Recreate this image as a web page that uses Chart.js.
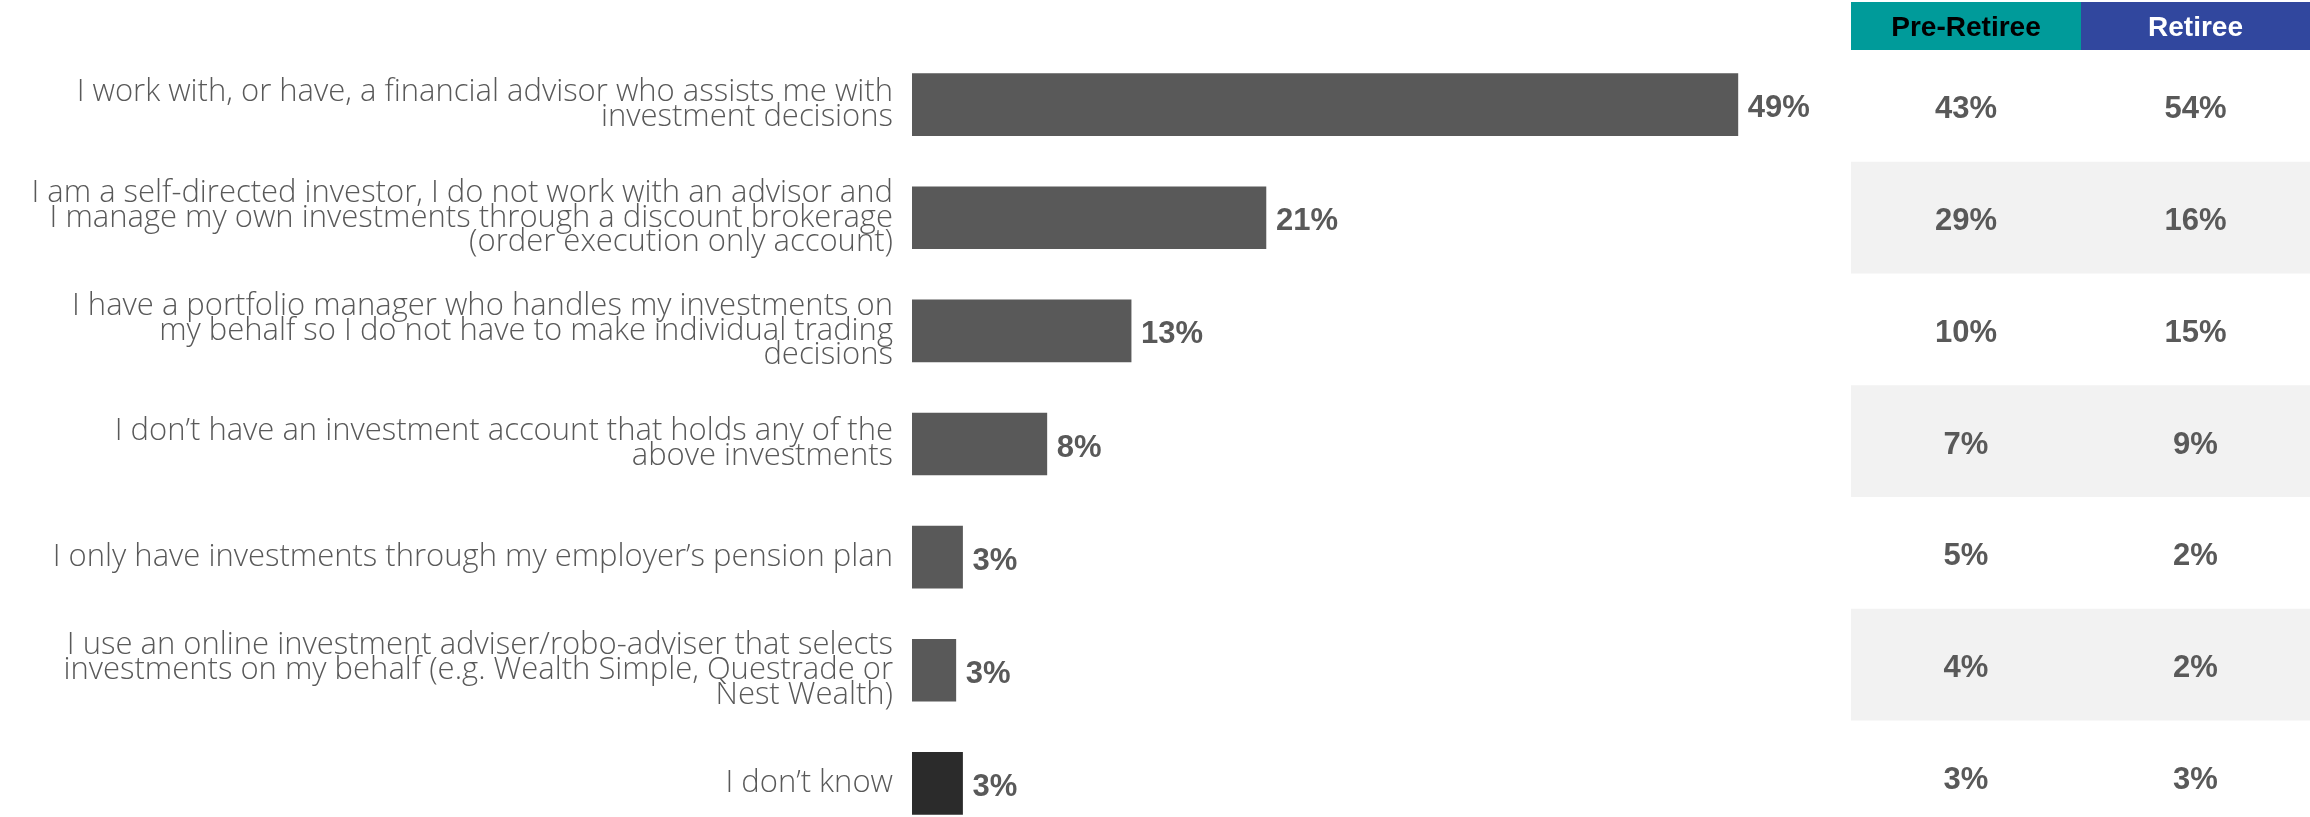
<!DOCTYPE html>
<html>
<head>
<meta charset="utf-8">
<script src="https://cdn.jsdelivr.net/npm/chart.js@4"></script>
<style>
  html, body { margin: 0; padding: 0; background: #fff; overflow: hidden; }
  #wrap { width: 2310px; height: 817px; overflow: hidden; }
  canvas { display: block; }
</style>
</head>
<body>
<div id="wrap"><canvas id="myChart" width="2310" height="860" style="width:2310px;height:860px"></canvas></div>
<script>
var categories = [
  ['I work with, or have, a financial advisor who assists me with', 'investment decisions'],
  ['I am a self-directed investor, I do not work with an advisor and', 'I manage my own investments through a discount brokerage', '(order execution only account)'],
  ['I have a portfolio manager who handles my investments on', 'my behalf so I do not have to make individual trading', 'decisions'],
  ['I don\u2019t have an investment account that holds any of the', 'above investments'],
  ['I only have investments through my employer\u2019s pension plan'],
  ['I use an online investment adviser/robo-adviser that selects', 'investments on my behalf (e.g. Wealth Simple, Questrade or', 'Nest Wealth)'],
  ['I don\u2019t know']
];
var totalValues = [49, 21, 13, 8, 3, 2.6, 3];
var preRetiree = [43, 29, 10, 7, 5, 4, 3];
var retiree = [54, 16, 15, 9, 2, 2, 3];
var tableHeaders = ['Pre-Retiree', 'Retiree'];

var barColors = ['#595959', '#595959', '#595959', '#595959', '#595959', '#595959', '#2b2b2b'];
var textGrey = '#595959';
var labelFont = '"Open Sans", Lato, sans-serif';
var boldFont = '"Liberation Sans", Arial, sans-serif';

// table layout (right side)
var tableLeft = 1851, colSplit = 2081, tableRight = 2310;
var headTop = 2, headBottom = 50, rowH = 111.75;

var valueLabels = {
  id: 'valueLabels',
  afterDatasetsDraw(chart) {
    var ctx = chart.ctx;
    var meta = chart.getDatasetMeta(0);
    ctx.save();
    ctx.font = 'bold 31px ' + boldFont;
    ctx.fillStyle = textGrey;
    ctx.textAlign = 'left';
    ctx.textBaseline = 'middle';
    meta.data.forEach((bar, i) => {
      ctx.fillText(Math.round(totalValues[i]) + '%', bar.x + 10, bar.y + 4);
    });
    ctx.restore();
  }
};

var sideTable = {
  id: 'sideTable',
  beforeDraw(chart) {
    var ctx = chart.ctx;
    ctx.save();
    ctx.fillStyle = '#f2f2f2';
    for (var i = 0; i < preRetiree.length; i++) {
      if (i % 2 == 1) {
        ctx.fillRect(tableLeft, headBottom + i * rowH, tableRight - tableLeft, rowH);
      }
    }
    ctx.fillStyle = '#009b9a';
    ctx.fillRect(tableLeft, headTop, colSplit - tableLeft, headBottom - headTop);
    ctx.fillStyle = '#31479e';
    ctx.fillRect(colSplit, headTop, tableRight - colSplit, headBottom - headTop);
    ctx.restore();
  },
  afterDraw(chart) {
    var ctx = chart.ctx;
    var c1 = (tableLeft + colSplit) / 2, c2 = (colSplit + tableRight) / 2;
    ctx.save();
    ctx.textAlign = 'center';
    ctx.textBaseline = 'middle';
    ctx.font = 'bold 28px ' + boldFont;
    ctx.fillStyle = '#000';
    ctx.fillText(tableHeaders[0], c1, (headTop + headBottom) / 2 + 2);
    ctx.fillStyle = '#fff';
    ctx.fillText(tableHeaders[1], c2, (headTop + headBottom) / 2 + 2);
    ctx.font = 'bold 31px ' + boldFont;
    ctx.fillStyle = textGrey;
    for (var i = 0; i < preRetiree.length; i++) {
      var y = headBottom + i * rowH + rowH / 2 + 4;
      ctx.fillText(preRetiree[i] + '%', c1, y);
      ctx.fillText(retiree[i] + '%', c2, y);
    }
    ctx.restore();
  }
};

var ctx = document.getElementById('myChart').getContext('2d');
var myChart = new Chart(ctx, {
  type: 'bar',
  data: {
    labels: categories,
    datasets: [{
      data: totalValues,
      backgroundColor: barColors,
      barThickness: 62
    }]
  },
  options: {
    indexAxis: 'y',
    responsive: false,
    animation: false,
    devicePixelRatio: 1,
    layout: { padding: { top: 48, bottom: 20, left: 0, right: 471 } },
    plugins: { legend: { display: false }, tooltip: { enabled: false } },
    scales: {
      x: { display: false, min: 0, max: 55 },
      y: {
        grid: { display: false },
        border: { display: false },
        afterFit(scale) {
          scale.width = 912;
          scale.paddingTop = 0;
          scale.paddingBottom = 0;
        },
        ticks: {
          color: textGrey,
          padding: 11,
          font: { family: labelFont, size: 31, weight: '300', lineHeight: 0.8 }
        }
      }
    }
  },
  plugins: [valueLabels, sideTable]
});
</script>
</body>
</html>
